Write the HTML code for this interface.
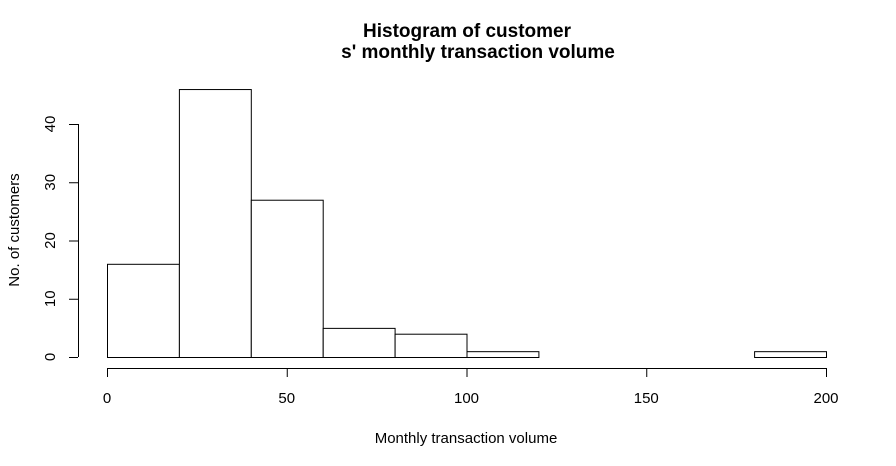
<!DOCTYPE html>
<html><head><meta charset="utf-8"><style>
body{margin:0;background:#fff}
svg{display:block;font-family:"Liberation Sans",Arial,sans-serif}
</style></head><body>
<svg id="chart" width="896" height="466" viewBox="0 0 896 466">
<text x="467" y="37" text-anchor="middle" font-size="19" font-weight="bold">Histogram of customer</text>
<text x="478" y="58" text-anchor="middle" font-size="19" font-weight="bold">s' monthly transaction volume</text>
<text x="466" y="443" text-anchor="middle" font-size="15">Monthly transaction volume</text>
<text transform="translate(19,230) rotate(-90)" text-anchor="middle" font-size="15">No. of customers</text>
<g id="bars"></g><g id="xaxis"></g><g id="yaxis"></g>
</svg>
<script>
const binEdges=[0,20,40,60,80,100,120,140,160,180,200];
const counts=[16,46,27,5,4,1,0,0,0,1];
const xTicks=[0,50,100,150,200];
const yTicks=[0,10,20,30,40];
const NS="http://www.w3.org/2000/svg";
const x=v=>107+v*(826-107)/200;
const y=v=>357-v*(357-124)/40;
function mk(tag,a,p){const e=document.createElementNS(NS,tag);for(const k in a)e.setAttribute(k,a[k]);p.appendChild(e);return e;}
const bars=document.getElementById('bars');
counts.forEach((c,i)=>{
 const r=mk('rect',{x:x(binEdges[i])+0.5,y:y(c)+0.5,width:x(binEdges[i+1])-x(binEdges[i]),height:y(0)-y(c),fill:'#fff',stroke:'#000','stroke-width':1},bars);
 
 
});
const xa=document.getElementById('xaxis');
const xl=mk('line',{x1:x(xTicks[0]),x2:x(xTicks[xTicks.length-1]),y1:368.5,y2:368.5,stroke:'#000'},xa);


xTicks.forEach(t=>{
 mk('line',{x1:x(t)+0.5,x2:x(t)+0.5,y1:368,y2:377,stroke:'#000'},xa);
 const tx=mk('text',{x:x(t),y:403,'text-anchor':'middle','font-size':15},xa);tx.textContent=t;
 
 
});
const ya=document.getElementById('yaxis');
const yl=mk('line',{x1:78.5,x2:78.5,y1:y(yTicks[0]),y2:y(yTicks[yTicks.length-1]),stroke:'#000'},ya);


yTicks.forEach(t=>{
 mk('line',{x1:69,x2:78,y1:y(t)+0.5,y2:y(t)+0.5,stroke:'#000'},ya);
 const tx=mk('text',{transform:`translate(55,${y(t)}) rotate(-90)`,'text-anchor':'middle','font-size':15},ya);tx.textContent=t;
 
 
});
</script>
</body></html>
